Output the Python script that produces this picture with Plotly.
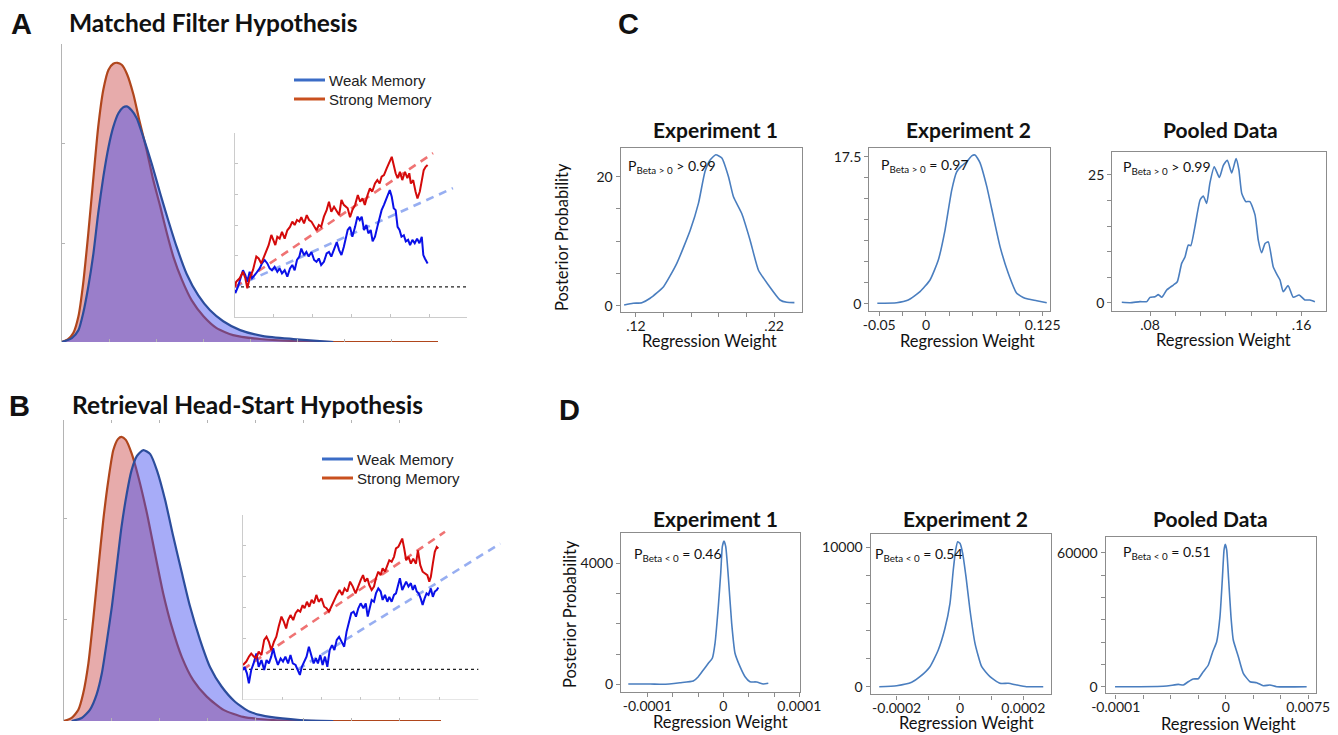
import plotly.graph_objects as go

W, H = 1338, 735

# ---------------- data ----------------
# Panel A: response-time distributions (Matched Filter)
a_strong_x = [0.0, 0.13, 0.24, 0.35, 0.45, 0.56, 0.67, 0.77, 0.88, 0.99, 1.09, 1.18, 1.27, 1.38, 1.52, 1.64, 1.80, 1.94, 2.09, 2.23, 2.37, 2.55, 2.76, 3.01, 3.29, 3.64, 4.21, 4.92, 6.0, 8.0]
a_strong_y = [0.0, 0.03, 0.09, 0.26, 0.59, 1.10, 1.67, 2.17, 2.55, 2.75, 2.81, 2.82, 2.80, 2.71, 2.50, 2.25, 1.94, 1.64, 1.37, 1.10, 0.86, 0.63, 0.42, 0.26, 0.14, 0.07, 0.03, 0.01, 0.0, 0.0]
a_weak_x = [0.0, 0.21, 0.35, 0.45, 0.56, 0.67, 0.77, 0.88, 0.99, 1.09, 1.20, 1.30, 1.38, 1.48, 1.59, 1.73, 1.91, 2.09, 2.26, 2.44, 2.65, 2.90, 3.15, 3.43, 3.79, 4.28, 4.92, 5.77]
a_weak_y = [0.0, 0.04, 0.12, 0.29, 0.56, 0.90, 1.30, 1.67, 1.97, 2.17, 2.31, 2.37, 2.38, 2.34, 2.26, 2.07, 1.80, 1.50, 1.23, 0.96, 0.69, 0.47, 0.32, 0.21, 0.12, 0.06, 0.03, 0.0]

# Panel A inset: accumulation paths
a_walk_red_x = [0.0, 0.03, 0.12, 0.205, 0.265, 0.316, 0.376, 0.462, 0.547, 0.607, 0.675, 0.744, 0.803, 0.863, 0.932, 0.983, 1.034, 1.085, 1.145, 1.205, 1.274, 1.342, 1.41, 1.47, 1.53, 1.59, 1.65, 1.70, 1.77, 1.84, 1.90, 1.96, 2.03, 2.09, 2.15, 2.21, 2.28, 2.35, 2.41, 2.47, 2.54, 2.61, 2.67, 2.73, 2.79,
                2.89, 2.95, 3.01, 3.08, 3.15, 3.21, 3.27, 3.33, 3.40, 3.46, 3.52, 3.59, 3.65, 3.71, 3.76, 3.82, 3.89, 3.95, 4.02, 4.07, 4.12, 4.17, 4.23, 4.29, 4.36, 4.42, 4.47, 4.51, 4.57, 4.63, 4.68, 4.74, 4.79, 4.84, 4.89, 4.94]
a_walk_red_y = [0.01, 0.17, 0.28, 0.49, 0.28, -0.04, 0.28, 0.55, 0.98, 0.92, 0.76, 0.99, 1.13, 1.35, 1.68, 1.52, 1.35, 1.62, 1.56, 1.78, 1.56, 1.83, 1.94, 2.11, 2.0, 2.16, 2.11, 2.25, 2.05, 2.32, 2.16, 2.11, 1.94, 1.83, 2.0, 1.94, 2.27, 2.48, 2.75, 2.43, 2.59, 2.43, 2.32, 2.81, 2.65,
                2.54, 2.25, 2.48, 2.65, 2.97, 2.75, 2.86, 2.65, 2.97, 3.18, 3.08, 3.34, 3.45, 3.34, 3.56, 3.61, 3.83, 3.99, 4.20, 3.94, 3.67, 3.51, 3.72, 3.45, 3.72, 3.51, 3.67, 3.34, 3.45, 3.08, 2.86, 3.08, 3.45, 3.77, 3.88, 3.94]
a_walk_blue_x = [0.0, 0.009, 0.077, 0.145, 0.205, 0.265, 0.316, 0.376, 0.436, 0.504, 0.573, 0.633, 0.692, 0.761, 0.829, 0.889, 0.949, 1.017, 1.085, 1.145, 1.205, 1.274, 1.342, 1.41, 1.47, 1.53, 1.59, 1.65, 1.70, 1.77, 1.83, 1.89, 1.96, 2.03, 2.09, 2.15, 2.21, 2.28, 2.35, 2.41, 2.47, 2.54, 2.61, 2.67, 2.73, 2.79,
                 2.89, 2.95, 3.01, 3.08, 3.14, 3.20, 3.25, 3.31, 3.37, 3.42, 3.48, 3.53, 3.59, 3.65, 3.71, 3.76, 3.82, 3.88, 3.93, 3.97, 4.02, 4.07, 4.12, 4.17, 4.22, 4.27, 4.33, 4.38, 4.44, 4.49, 4.55, 4.61, 4.67, 4.73, 4.79, 4.83, 4.87, 4.92, 4.94]
a_walk_blue_y = [-0.10, -0.2, 0.01, 0.28, 0.54, 0.38, 0.17, 0.49, 0.28, 0.38, 0.49, 0.60, 0.76, 0.87, 0.76, 0.60, 0.54, 0.65, 0.49, 0.60, 0.44, 0.54, 0.33, 0.60, 0.71, 0.54, 0.87, 0.98, 1.24, 1.03, 1.13, 0.98, 1.13, 0.87, 0.81, 0.92, 0.71, 0.81, 1.08, 1.13, 0.98, 1.24, 1.45, 1.19, 1.03, 1.29,
                 1.84, 1.94, 1.62, 1.94, 2.27, 2.16, 2.27, 1.84, 2.0, 1.73, 1.84, 1.47, 1.62, 1.94, 2.21, 2.48, 2.65, 2.86, 3.02, 3.13, 2.91, 2.54, 2.48, 1.94, 1.84, 1.62, 1.67, 1.47, 1.52, 1.35, 1.52, 1.41, 1.56, 1.41, 1.62, 1.03, 0.92, 0.81, 0.76]
a_drift_red_x = [0.0, 5.08]
a_drift_red_y = [0.0, 4.32]
a_drift_blue_x = [0.0, 5.59]
a_drift_blue_y = [0.0, 3.19]
a_threshold_x = [0.0, 5.95]
a_threshold_y = [0.0, 0.0]

# Panel B: response-time distributions (Retrieval Head-Start)
b_strong_x = [0.0, 0.16, 0.30, 0.40, 0.51, 0.61, 0.72, 0.82, 0.925, 1.03, 1.13, 1.20, 1.29, 1.41, 1.55, 1.73, 1.90, 2.07, 2.25, 2.46, 2.70, 2.98, 3.33, 3.74, 4.37, 5.5, 7.87]
b_strong_y = [0.0, 0.03, 0.11, 0.27, 0.57, 1.00, 1.52, 1.98, 2.37, 2.67, 2.78, 2.80, 2.77, 2.64, 2.41, 2.05, 1.65, 1.26, 0.93, 0.63, 0.40, 0.24, 0.11, 0.04, 0.01, 0.0, 0.0]
b_weak_x = [0.16, 0.37, 0.54, 0.68, 0.79, 0.89, 1.00, 1.10, 1.20, 1.31, 1.41, 1.52, 1.656, 1.80, 1.94, 2.11, 2.28, 2.46, 2.63, 2.84, 3.05, 3.29, 3.57, 3.88, 4.30, 4.93, 5.62]
b_weak_y = [0.0, 0.03, 0.11, 0.26, 0.47, 0.77, 1.13, 1.52, 1.91, 2.24, 2.47, 2.61, 2.67, 2.63, 2.47, 2.18, 1.82, 1.46, 1.13, 0.80, 0.53, 0.34, 0.19, 0.09, 0.04, 0.01, 0.0]

# Panel B inset: accumulation paths
b_walk_red_x = [0.0, 0.085, 0.153, 0.21, 0.28, 0.34, 0.40, 0.47, 0.54, 0.60, 0.66, 0.72, 0.79, 0.85, 0.91, 0.98, 1.04, 1.10, 1.15, 1.21, 1.28, 1.34, 1.40, 1.46, 1.52, 1.57, 1.63, 1.69, 1.75, 1.81, 1.87, 1.93, 2.0, 2.07, 2.13, 2.19, 2.25, 2.32, 2.39, 2.46, 2.53, 2.59, 2.66, 2.73, 2.80, 2.87, 2.93, 3.0, 3.06,
                3.11, 3.17, 3.22, 3.28, 3.34, 3.39, 3.45, 3.51, 3.56, 3.62, 3.68, 3.73, 3.79, 3.85, 3.90, 3.96, 4.02, 4.06, 4.11, 4.16, 4.22, 4.28, 4.34, 4.41, 4.46, 4.52, 4.58, 4.64, 4.70, 4.75, 4.79, 4.84, 4.89, 4.94, 4.98]
b_walk_red_y = [0.14, 0.25, 0.41, 0.51, 0.41, 0.36, 0.57, 0.46, 0.95, 1.05, 0.89, 0.62, 0.89, 1.05, 1.38, 1.70, 1.54, 1.32, 1.59, 1.75, 1.59, 1.81, 1.91, 1.86, 2.07, 1.97, 2.18, 2.02, 2.24, 2.13, 2.40, 2.18, 2.29, 2.02, 1.97, 1.86, 2.02, 2.24, 2.40, 2.56, 2.40, 2.61, 2.51, 2.83, 2.67, 2.45, 2.67, 2.88, 3.04,
                2.83, 2.94, 2.72, 2.56, 2.67, 2.94, 3.15, 3.04, 3.26, 3.15, 3.36, 3.52, 3.47, 3.63, 3.90, 3.95, 4.11, 4.22, 3.90, 3.52, 3.63, 3.41, 3.57, 3.41, 3.84, 3.36, 3.15, 3.09, 3.04, 2.83, 2.99, 3.41, 3.79, 3.95, 3.90]
b_walk_blue_x = [0.0, 0.04, 0.10, 0.15, 0.21, 0.27, 0.34, 0.40, 0.47, 0.54, 0.60, 0.66, 0.72, 0.77, 0.82, 0.89, 0.96, 1.02, 1.08, 1.15, 1.21, 1.27, 1.34, 1.40, 1.45, 1.50, 1.56, 1.62, 1.68, 1.74, 1.80, 1.86, 1.91, 1.97, 2.03, 2.09, 2.15, 2.21, 2.27, 2.33, 2.39, 2.45, 2.51, 2.58, 2.64, 2.70, 2.76, 2.82, 2.88, 2.94, 3.0,
                 3.07, 3.13, 3.18, 3.22, 3.28, 3.34, 3.39, 3.45, 3.51, 3.56, 3.62, 3.68, 3.73, 3.79, 3.85, 3.90, 3.95, 4.00, 4.06, 4.11, 4.16, 4.22, 4.28, 4.33, 4.38, 4.43, 4.48, 4.53, 4.58, 4.63, 4.68, 4.73, 4.79, 4.84, 4.89, 4.94, 4.98]
b_walk_blue_y = [-0.02, 0.08, -0.13, -0.45, -0.02, 0.19, 0.51, 0.08, 0.30, -0.02, 0.30, 0.19, 0.41, 0.68, 0.41, 0.14, 0.35, 0.25, 0.41, 0.19, 0.46, 0.19, 0.14, -0.02, -0.18, 0.08, 0.25, 0.41, 0.73, 0.41, 0.19, 0.35, 0.19, 0.46, 0.14, 0.41, 0.08, 0.62, 0.78, 0.62, 0.95, 1.05, 0.89, 0.73, 1.21, 1.48, 1.81, 1.86, 1.70, 1.97, 2.13,
                 1.97, 2.13, 1.70, 1.91, 2.24, 2.18, 2.45, 2.61, 2.51, 2.24, 2.40, 2.18, 2.34, 2.18, 2.40, 2.45, 2.72, 2.94, 2.56, 2.72, 2.83, 2.67, 2.78, 2.56, 2.72, 2.51, 2.45, 2.29, 2.08, 2.29, 2.45, 2.40, 2.61, 2.34, 2.51, 2.56, 2.64]
b_drift_red_x = [0.0, 5.15]
b_drift_red_y = [0.0, 4.44]
b_drift_blue_x = [1.40, 6.56]
b_drift_blue_y = [0.0, 4.06]
b_threshold_x = [0.0, 6.0]
b_threshold_y = [0.0, 0.0]

# Panel C: posterior densities (positive effect)
c1_x = [0.1115, 0.118, 0.1243, 0.1303, 0.14, 0.1496, 0.1593, 0.1653, 0.170, 0.1737, 0.1778, 0.1822, 0.187, 0.1906, 0.1966, 0.2026, 0.2087, 0.2159, 0.2243, 0.2292, 0.2347]
c1_y = [0.1, 0.37, 0.47, 1.15, 2.95, 6.57, 11.7, 15.9, 20.8, 22.6, 23.4, 22.9, 20.0, 16.9, 14.3, 10.2, 5.5, 3.2, 0.88, 0.52, 0.47]
c2_x = [-0.0521, -0.0314, -0.019, -0.0064, 0.0043, 0.0132, 0.0204, 0.0275, 0.0329, 0.0382, 0.0436, 0.049, 0.0525, 0.0578, 0.065, 0.0721, 0.0793, 0.0882, 0.0972, 0.106, 0.1186, 0.1293]
c2_y = [0.05, 0.12, 0.44, 1.43, 2.82, 5.2, 8.77, 13.5, 15.7, 16.4, 16.9, 17.6, 17.7, 16.8, 14.0, 10.4, 6.8, 3.6, 1.24, 0.64, 0.36, 0.12]
c3_x = [0.0651, 0.0695, 0.0747, 0.0783, 0.08, 0.0826, 0.0844, 0.0862, 0.0888, 0.0923, 0.0944, 0.0967, 0.0985, 0.1002, 0.1015, 0.1037, 0.1064, 0.1081, 0.1099, 0.1116, 0.1139, 0.1166, 0.1187, 0.1208, 0.1231, 0.1254, 0.1269, 0.1284, 0.1305, 0.1327, 0.1354, 0.1371, 0.1389, 0.1407, 0.1424, 0.1450, 0.1473, 0.1486, 0.1503, 0.1529, 0.1556, 0.1587, 0.1617, 0.1644, 0.167]
c3_y = [0.07, 0.0, 0.2, 0.2, 1.05, 1.17, 1.57, 1.05, 2.48, 3.46, 4.1, 7.7, 9.0, 11.3, 11.15, 14.9, 20.1, 20.9, 19.45, 23.4, 26.6, 24.5, 26.9, 27.9, 25.4, 28.2, 26.0, 21.4, 19.8, 19.8, 17.2, 12.3, 9.8, 11.6, 11.9, 7.05, 5.3, 4.44, 2.15, 3.33, 1.05, 1.5, 0.53, 0.53, 0.2]

# Panel D: posterior densities (null effect)
d1_x = [-1.25e-4, -0.964e-4, -0.79e-4, -0.57e-4, -0.395e-4, -0.329e-4, -0.263e-4, -0.197e-4, -0.145e-4, -0.109e-4, -0.066e-4, -0.034e-4, -0.013e-4, 0.009e-4, 0.032e-4, 0.066e-4, 0.11e-4, 0.154e-4, 0.22e-4, 0.286e-4, 0.351e-4, 0.44e-4, 0.526e-4, 0.592e-4]
d1_y = [10, 10, 0, 53, 109, 251, 473, 694, 860, 1355, 2565, 3670, 4549, 4737, 4549, 3557, 2017, 1025, 582, 251, 86, 76, 10, 33]
d2_x = [-2.55e-4, -2.0e-4, -1.526e-4, -1.264e-4, -0.948e-4, -0.686e-4, -0.474e-4, -0.316e-4, -0.212e-4, -0.136e-4, -0.073e-4, 0.0, 0.085e-4, 0.19e-4, 0.316e-4, 0.474e-4, 0.686e-4, 0.948e-4, 1.264e-4, 1.526e-4, 1.79e-4, 2.1e-4, 2.63e-4]
d2_y = [0, 72, 316, 717, 1435, 2633, 4189, 5983, 8372, 9806, 10402, 10287, 9570, 7891, 5502, 3113, 1435, 717, 244, 244, 122, 0, 0]
d3_x = [-1.006e-4, -0.779e-4, -0.536e-4, -0.431e-4, -0.385e-4, -0.34e-4, -0.295e-4, -0.249e-4, -0.204e-4, -0.158e-4, -0.118e-4, -0.082e-4, -0.052e-4, -0.031e-4, -0.015e-4, -0.004e-4, 0.009e-4, 0.027e-4, 0.048e-4, 0.069e-4, 0.115e-4, 0.16e-4, 0.221e-4, 0.282e-4, 0.342e-4, 0.403e-4, 0.464e-4, 0.736e-4]
d3_y = [0, 0, 300, 1045, 746, 2240, 3448, 3583, 6717, 9718, 15674, 20152, 31348, 47783, 61218, 63770, 61218, 47783, 31348, 20913, 13435, 6000, 2240, 1791, 448, 746, 0, 0]

# tick labels (labelled ticks) and unlabelled minor ticks
c1_xticks, c1_xlabels, c1_xminor = [0.12, 0.22], [".12", ".22"], [0.14, 0.16, 0.18, 0.20]
c1_yticks, c1_ylabels, c1_yminor = [0, 20], ["0", "20"], [5, 10, 15]
c2_xticks, c2_xlabels, c2_xminor = [-0.05, 0, 0.125], ["-0.05", "0", "0.125"], [-0.025, 0.025, 0.05, 0.075, 0.1]
c2_yticks, c2_ylabels, c2_yminor = [0, 17.5], ["0", "17.5"], [2.5, 5, 7.5, 10, 12.5, 15]
c3_xticks, c3_xlabels, c3_xminor = [0.08, 0.16], [".08", ".16"], [0.0933, 0.1067, 0.12, 0.1333, 0.1467]
c3_yticks, c3_ylabels, c3_yminor = [0, 25], ["0", "25"], [5, 10, 15, 20]
d1_xticks, d1_xlabels, d1_xminor = [-1e-4, 0, 1e-4], ["-0.0001", "0", "0.0001"], [-0.667e-4, -0.333e-4, 0.333e-4, 0.667e-4]
d1_yticks, d1_ylabels, d1_yminor = [0, 4000], ["0", "4000"], [1000, 2000, 3000]
d2_xticks, d2_xlabels, d2_xminor = [-2e-4, 0, 2e-4], ["-0.0002", "0", "0.0002"], [-1e-4, 1e-4]
d2_yticks, d2_ylabels, d2_yminor = [0, 10000], ["0", "10000"], [2000, 4000, 6000, 8000]
d3_xticks, d3_xlabels, d3_xminor = [-1e-4, 0, 0.75e-4], ["-0.0001", "0", "0.0075"], [-0.75e-4, -0.5e-4, -0.25e-4, 0.25e-4, 0.5e-4]
d3_yticks, d3_ylabels, d3_yminor = [0, 60000], ["0", "60000"], [10000, 20000, 30000, 40000, 50000]

# ---------------- helpers ----------------
def dom_x(a, b):
    return [a / W, b / W]

def dom_y(top, bottom):
    return [1 - bottom / H, 1 - top / H]

def px(x):
    return x / W

def py(y):
    return 1 - y / H

GILL = "Lato"
fig = go.Figure()

STRONG_LINE = "#b0461c"
WEAK_LINE = "#2c4d9c"
STRONG_FILL = "rgba(200,60,60,0.43)"
WEAK_FILL = "rgba(60,70,240,0.45)"
WALK_RED = "#d40a0a"
WALK_BLUE = "#0a10e8"
DRIFT_RED = "rgba(236,90,90,0.85)"
DRIFT_BLUE = "rgba(140,165,240,0.9)"
POST = "#4a7ebf"

def rt_pair(xa, ya, sx, sy, wx, wy):
    fig.add_trace(go.Scatter(x=sx, y=sy, xaxis=xa, yaxis=ya, mode="lines", fill="tozeroy",
                             fillcolor=STRONG_FILL, line=dict(color=STRONG_LINE, width=2.2, shape="spline", smoothing=0.6),
                             showlegend=False, hoverinfo="skip"))
    fig.add_trace(go.Scatter(x=wx, y=wy, xaxis=xa, yaxis=ya, mode="lines", fill="tozeroy",
                             fillcolor=WEAK_FILL, line=dict(color=WEAK_LINE, width=2.2, shape="spline", smoothing=0.6),
                             showlegend=False, hoverinfo="skip"))

def walks(xa, ya, thx, thy, drx, dry, dbx, dby, rx, ry, bx, by):
    fig.add_trace(go.Scatter(x=thx, y=thy, xaxis=xa, yaxis=ya, mode="lines",
                             line=dict(color="#222222", width=1.3, dash="dot"), showlegend=False, hoverinfo="skip"))
    fig.add_trace(go.Scatter(x=dbx, y=dby, xaxis=xa, yaxis=ya, mode="lines",
                             line=dict(color=DRIFT_BLUE, width=2.6, dash="8px,6px"), showlegend=False, hoverinfo="skip"))
    fig.add_trace(go.Scatter(x=drx, y=dry, xaxis=xa, yaxis=ya, mode="lines",
                             line=dict(color=DRIFT_RED, width=2.6, dash="8px,6px"), showlegend=False, hoverinfo="skip"))
    fig.add_trace(go.Scatter(x=bx, y=by, xaxis=xa, yaxis=ya, mode="lines",
                             line=dict(color=WALK_BLUE, width=2), showlegend=False, hoverinfo="skip"))
    fig.add_trace(go.Scatter(x=rx, y=ry, xaxis=xa, yaxis=ya, mode="lines",
                             line=dict(color=WALK_RED, width=2), showlegend=False, hoverinfo="skip"))

def post(xa, ya, x, y):
    fig.add_trace(go.Scatter(x=x, y=y, xaxis=xa, yaxis=ya, mode="lines",
                             line=dict(color=POST, width=1.6, shape="spline", smoothing=0.5),
                             showlegend=False, hoverinfo="skip"))

# traces
rt_pair("x", "y", a_strong_x, a_strong_y, a_weak_x, a_weak_y)
walks("x2", "y2", a_threshold_x, a_threshold_y, a_drift_red_x, a_drift_red_y, a_drift_blue_x, a_drift_blue_y,
      a_walk_red_x, a_walk_red_y, a_walk_blue_x, a_walk_blue_y)
rt_pair("x3", "y3", b_strong_x, b_strong_y, b_weak_x, b_weak_y)
walks("x4", "y4", b_threshold_x, b_threshold_y, b_drift_red_x, b_drift_red_y, b_drift_blue_x, b_drift_blue_y,
      b_walk_red_x, b_walk_red_y, b_walk_blue_x, b_walk_blue_y)
post("x5", "y5", c1_x, c1_y)
post("x6", "y6", c2_x, c2_y)
post("x7", "y7", c3_x, c3_y)
post("x8", "y8", d1_x, d1_y)
post("x9", "y9", d2_x, d2_y)
post("x10", "y10", d3_x, d3_y)

# ---------------- axes ----------------
LIGHT = "#b4b4b4"

def main_axes(dx, dy, xr, yr, xt, yt, anchor_x, anchor_y, top_ticks=False):
    xa = dict(domain=dx, range=xr, showgrid=False, zeroline=False, ticks="inside",
              ticklen=3, tickcolor=LIGHT, tickvals=xt, showticklabels=False, anchor=anchor_y, fixedrange=True)
    if top_ticks:
        xa.update(showline=True, linecolor="rgba(0,0,0,0)", mirror="ticks")
    else:
        xa.update(showline=False)
    ya = dict(domain=dy, range=yr, showgrid=False, zeroline=False, showline=True, linecolor=LIGHT, linewidth=1,
              ticks="inside", ticklen=3, tickcolor=LIGHT, tickvals=yt, showticklabels=False, anchor=anchor_x,
              fixedrange=True)
    return xa, ya

def inset_axes(dx, dy, xr, yr, xt, yt, anchor_x, anchor_y, xline=True):
    xa = dict(domain=dx, range=xr, showgrid=False, zeroline=False, showline=xline, linecolor="#cccccc", linewidth=1,
              ticks="inside", ticklen=3, tickcolor="#c4c4c4", tickvals=xt, showticklabels=False, anchor=anchor_y)
    ya = dict(domain=dy, range=yr, showgrid=False, zeroline=False, showline=True, linecolor="#cccccc", linewidth=1,
              ticks="inside", ticklen=3, tickcolor="#c4c4c4", tickvals=yt, showticklabels=False, anchor=anchor_x)
    return xa, ya

def post_axes(dx, dy, xr, yr, xt, xl, xm, yt, yl, ym, anchor_x, anchor_y):
    common = dict(showgrid=False, zeroline=False, showline=True, mirror=True, linecolor="#8c8c8c", linewidth=1.4,
                  ticks="outside", ticklen=4, tickcolor="#8c8c8c", tickwidth=1, automargin=False,
                  tickfont=dict(family=GILL, size=14, color="#1a1a1a"))
    xa = dict(domain=dx, range=xr, tickvals=xt, ticktext=xl, anchor=anchor_y, ticklabelstandoff=-3,
              minor=dict(tickvals=xm, ticks="outside", ticklen=4, tickcolor="#8c8c8c", showgrid=False), **common)
    ya = dict(domain=dy, range=yr, tickvals=yt, ticktext=yl, anchor=anchor_x,
              minor=dict(tickvals=ym, ticks="outside", ticklen=4, tickcolor="#8c8c8c", showgrid=False), **common)
    return xa, ya

lay = {}
lay["xaxis"], lay["yaxis"] = main_axes(dom_x(62, 438), dom_y(44, 342), [0, 8], [0, 3.01],
                                       [1, 2, 3, 4, 5, 6, 7], [1, 2, 3], "x", "y")
lay["xaxis2"], lay["yaxis2"] = inset_axes(dom_x(235, 467), dom_y(133, 317), [0, 5.95], [-0.97, 4.97],
                                          [1, 2, 3, 4, 5], [1, 2, 3, 4], "x2", "y2")
lay["xaxis3"], lay["yaxis3"] = main_axes(dom_x(64, 441), dom_y(420, 721), [0, 7.87], [0, 2.966],
                                         [1, 2, 3, 4, 5, 6, 7], [1, 2], "x3", "y3", top_ticks=True)
lay["xaxis4"], lay["yaxis4"] = inset_axes(dom_x(243, 505), dom_y(515, 700), [0, 6.68], [-0.99, 4.98],
                                          [1, 2, 3, 4, 5], [1, 2, 3, 4], "x4", "y4", xline=False)
lay["xaxis5"], lay["yaxis5"] = post_axes(dom_x(620.7, 802), dom_y(147.7, 312), [0.109, 0.2402], [-0.98, 24.5],
                                         c1_xticks, c1_xlabels, c1_xminor, c1_yticks, c1_ylabels, c1_yminor, "x5", "y5")
lay["xaxis6"], lay["yaxis6"] = post_axes(dom_x(869.3, 1050), dom_y(148.3, 311), [-0.0607, 0.1328], [-0.87, 18.5],
                                         c2_xticks, c2_xlabels, c2_xminor, c2_yticks, c2_ylabels, c2_yminor, "x6", "y6")
lay["xaxis7"], lay["yaxis7"] = post_axes(dom_x(1112.3, 1325.7), dom_y(151.7, 310.7), [0.0601, 0.1727], [-1.57, 29.56],
                                         c3_xticks, c3_xlabels, c3_xminor, c3_yticks, c3_ylabels, c3_yminor, "x7", "y7")
lay["xaxis8"], lay["yaxis8"] = post_axes(dom_x(621, 800), dom_y(532.7, 691.7), [-1.346e-4, 1.009e-4], [-245, 5012],
                                         d1_xticks, d1_xlabels, d1_xminor, d1_yticks, d1_ylabels, d1_yminor, "x8", "y8")
lay["xaxis9"], lay["yaxis9"] = post_axes(dom_x(870.7, 1051), dom_y(534, 694.3), [-2.82e-4, 2.875e-4], [-545, 10954],
                                         d2_xticks, d2_xlabels, d2_xminor, d2_yticks, d2_ylabels, d2_yminor, "x9", "y9")
lay["xaxis10"], lay["yaxis10"] = post_axes(dom_x(1105.7, 1316), dom_y(536.7, 693.3), [-1.091e-4, 0.821e-4], [-2955, 67165],
                                           d3_xticks, d3_xlabels, d3_xminor, d3_yticks, d3_ylabels, d3_yminor, "x10", "y10")

# ---------------- text ----------------
ann = []

def text(t, x, y, size, family=GILL, xanchor="center", yanchor="middle", angle=0, color="#111111"):
    ann.append(dict(text=t, x=px(x), y=py(y), xref="paper", yref="paper", showarrow=False,
                    xanchor=xanchor, yanchor=yanchor, textangle=angle,
                    font=dict(family=family, size=size, color=color)))

# panel letters
text("<b>A</b>", 21, 24, 29, family="Liberation Sans")
text("<b>B</b>", 19, 406, 29, family="Liberation Sans")
text("<b>C</b>", 628, 24, 29, family="Liberation Sans")
text("<b>D</b>", 569, 410, 29, family="Liberation Sans")
# panel titles
text("<b>Matched Filter Hypothesis</b>", 67, 23, 24.5, xanchor="left")
text("<b>Retrieval Head-Start Hypothesis</b>", 70, 404, 24.5, xanchor="left")
for t, x, y in [("Experiment 1", 716, 130), ("Experiment 2", 968, 130), ("Pooled Data", 1220, 130),
                ("Experiment 1", 716, 518), ("Experiment 2", 965, 518), ("Pooled Data", 1210, 518)]:
    text("<b>%s</b>" % t, x, y, 21)
# axis titles
text("Posterior Probability", 562, 237, 16.5, angle=-90)
text("Posterior Probability", 570, 614, 16.5, angle=-90)
for x, y in [(709, 341), (967, 341), (1223, 340), (720, 722), (966, 723), (1228, 724)]:
    text("Regression Weight", x, y, 16.5)
# probability annotations
for t, x, y in [("P<sub>Beta &gt; 0</sub> &gt; 0.99", 626, 166), ("P<sub>Beta &gt; 0</sub> = 0.97", 879, 165),
                ("P<sub>Beta &gt; 0</sub> &gt; 0.99", 1121, 167), ("P<sub>Beta &lt; 0</sub> = 0.46", 632, 554),
                ("P<sub>Beta &lt; 0</sub> = 0.54", 873, 554), ("P<sub>Beta &lt; 0</sub> = 0.51", 1121, 552)]:
    text(t, x, y, 14, xanchor="left")
# legends
for (yw, ys, x0) in [(80, 99, 294), (459, 478, 322)]:
    text("Weak Memory", x0 + 33, yw, 15, family="Liberation Sans", xanchor="left", color="#222222")
    text("Strong Memory", x0 + 33, ys, 15, family="Liberation Sans", xanchor="left", color="#222222")

shapes = []
for (yw, ys, x0) in [(80, 99, 294), (459, 478, 322)]:
    shapes.append(dict(type="line", xref="paper", yref="paper", x0=px(x0), x1=px(x0 + 31), y0=py(yw), y1=py(yw),
                       line=dict(color="#3b6cc6", width=3)))
    shapes.append(dict(type="line", xref="paper", yref="paper", x0=px(x0), x1=px(x0 + 31), y0=py(ys), y1=py(ys),
                       line=dict(color="#c9501f", width=3)))
# inset B bottom axis line (axis extends only to 6 units while the drift line runs past it)
shapes.append(dict(type="line", xref="x4", yref="y4", x0=0, x1=6.0, y0=-0.99, y1=-0.99,
                   line=dict(color="#cccccc", width=1)))

fig.update_layout(
    width=W, height=H, autosize=False,
    margin=dict(l=0, r=0, t=0, b=0, pad=0, autoexpand=False),
    paper_bgcolor="white", plot_bgcolor="rgba(0,0,0,0)",
    showlegend=False, annotations=ann, shapes=shapes, **lay
)

fig.write_html("out.html")
